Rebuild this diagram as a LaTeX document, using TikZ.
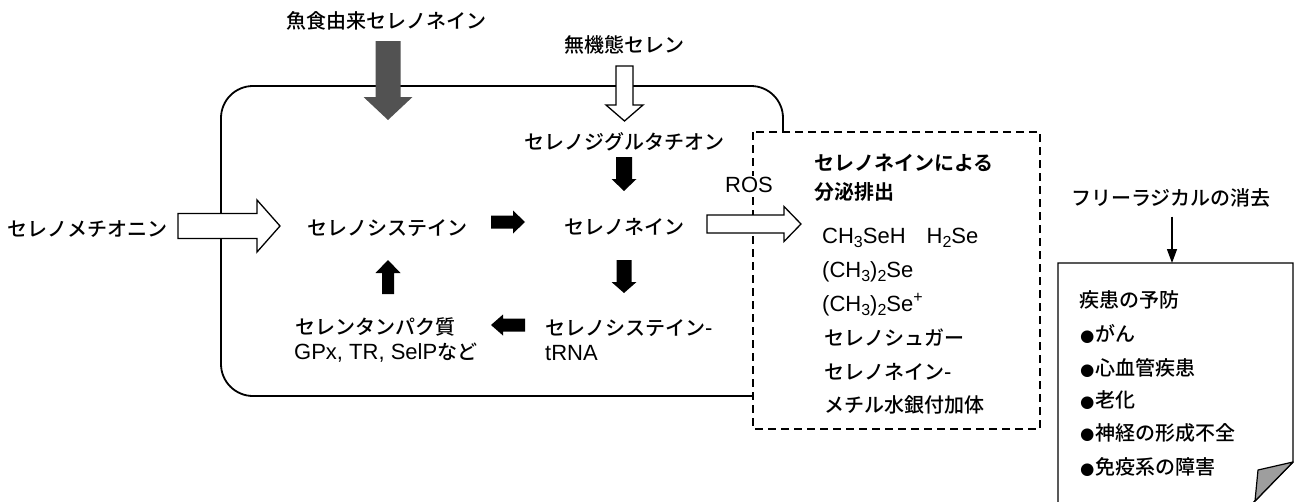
\documentclass[tikz,border=0pt]{standalone}
\usepackage{fontspec}
\setmainfont{Liberation Sans}
\newfontfamily\jpf{Noto Sans CJK JP Medium}[BoldFont={Noto Sans CJK JP Bold}]
\newfontfamily\bulletfont{DejaVu Sans}
\usetikzlibrary{calc,arrows.meta}
\definecolor{fishgray}{gray}{0.32}
\definecolor{foldgray}{gray}{0.62}
\newcommand\lat[1]{{\rmfamily\fontsize{22}{25}\selectfont #1}}
\newcommand\bul{{\bulletfont\fontsize{16.5}{25}\selectfont\raisebox{0.6pt}{●}}\hspace{1pt}}
\newcommand\chsub[1]{\raisebox{-0.3ex}{\fontsize{16}{16}\selectfont #1}}
\newcommand\chsup[1]{\raisebox{0.8ex}{\fontsize{16}{16}\selectfont #1}}
% block arrow: style, from, to, shaft half width, head half width, head length
\newcommand\barrow[6]{%
  \path[#1] let \p1=(#2), \p2=(#3), \n1={veclen(\x2-\x1,\y2-\y1)},
    \p3=({(\x2-\x1)/\n1*1pt},{(\y2-\y1)/\n1*1pt}),
    \p4=({\x2-#6*(\x3)},{\y2-#6*(\y3)}) in
    ({\x1-#4*(\y3)},{\y1+#4*(\x3)}) -- ({\x4-#4*(\y3)},{\y4+#4*(\x3)})
    -- ({\x4-#5*(\y3)},{\y4+#5*(\x3)}) -- (\p2)
    -- ({\x4+#5*(\y3)},{\y4-#5*(\x3)}) -- ({\x4+#4*(\y3)},{\y4-#4*(\x3)})
    -- ({\x1+#4*(\y3)},{\y1-#4*(\x3)}) -- cycle;}
\begin{document}
\begin{tikzpicture}[x=1pt,y=-1pt,
  jp/.style={font=\jpf\fontsize{20}{25}\selectfont, inner sep=0pt},
  bjp/.style={font=\jpf\bfseries\fontsize{20}{25}\selectfont, inner sep=0pt},
  la/.style={font=\fontsize{22}{25}\selectfont, inner sep=0pt},
  cell/.style={line width=1.8pt, rounded corners=32pt},
  dbox/.style={line width=1.4pt, dash pattern=on 8pt off 5pt, fill=white},
  hollow/.style={fill=white, draw=black, line width=1.3pt, line join=miter},
  blackarrow/.style={fill=black},
  fisharrow/.style={fill=fishgray},
  thinarrow/.style={line width=1.4pt, -{Triangle[length=14pt,width=10pt]}},
  notepage/.style={line width=1.4pt},
  foldcorner/.style={fill=foldgray, draw=black, line width=1.2pt, line join=round}
]
\useasboundingbox (0,0) rectangle (1296,501);
% cell and excretion box
\draw[cell] (221,86) rectangle (783,396);
\draw[dbox] (753,132) rectangle (1040,429);
% arrow end points
\coordinate (g1) at (388,41);   \coordinate (g2) at (388,120);
\coordinate (w1) at (624.5,66); \coordinate (w2) at (624.5,121);
\coordinate (b1) at (624,157);  \coordinate (b2) at (624,191);
\coordinate (r1) at (491,222);  \coordinate (r2) at (525,222);
\coordinate (d1) at (624,260);  \coordinate (d2) at (624,293);
\coordinate (l1) at (525,325);  \coordinate (l2) at (491,325);
\coordinate (u1) at (388,294);  \coordinate (u2) at (388,260);
\coordinate (h1) at (178,226);  \coordinate (h2) at (280,226);
\coordinate (o1) at (707,224);  \coordinate (o2) at (801,224);
\coordinate (notetop) at (1172,263);
% block arrows
\barrow{fisharrow}{g1}{g2}{12.5}{24.5}{23}
\barrow{hollow}{w1}{w2}{8.5}{18.5}{16}
\barrow{blackarrow}{b1}{b2}{8}{12.5}{12}
\barrow{blackarrow}{r1}{r2}{6.5}{11.5}{12}
\barrow{blackarrow}{d1}{d2}{7.5}{12.5}{11}
\barrow{blackarrow}{l1}{l2}{6.5}{10.5}{12}
\barrow{blackarrow}{u1}{u2}{6}{12.5}{13}
\barrow{hollow}{h1}{h2}{12.5}{26}{23}
\barrow{hollow}{o1}{o2}{9}{17.5}{17}
% note page
\draw[notepage] (1058,505) -- (1058,263) -- (1293,263) -- (1293,462) -- (1251,505);
\draw[foldcorner] (1293,462) -- (1258,470) -- (1255,501) -- cycle;
% texts
\node[jp] (fish) at (386,21) {魚食由来セレノネイン};
\node[jp] (inorg) at (624,45) {無機態セレン};
\node[jp] (sdg) at (624,142) {セレノジグルタチオン};
\node[jp] (sn) at (624,227) {セレノネイン};
\node[jp] (sc) at (387,228) {セレノシステイン};
\node[jp, anchor=west] (sm) at (7,229) {セレノメチオニン};
\node[jp, anchor=west] (tp1) at (295,327) {セレンタンパク質};
\node[jp, anchor=west] (tp2) at (294,353) {\lat{GPx, TR, SelP}など};
\node[jp, anchor=west] (trna1) at (545,328) {セレノシステイン\lat{-}};
\node[la, anchor=west] (trna2) at (545,353) {tRNA};
\node[la, fill=white, inner sep=1pt] (ros) at (749,185) {ROS};
\node[bjp, anchor=west] (ex1) at (814,163) {セレノネインによる};
\node[bjp, anchor=west] (ex2) at (814,192) {分泌排出};
\node[la, anchor=west] (c1) at (822,238) {CH\chsub{3}SeH\hspace{21pt}H\chsub{2}Se};
\node[la, anchor=west] (c2) at (822,272) {(CH\chsub{3})\chsub{2}Se};
\node[la, anchor=west] (c3) at (822,305) {(CH\chsub{3})\chsub{2}Se\chsup{+}};
\node[jp, anchor=west] (c4) at (824,338) {セレノシュガー};
\node[jp, anchor=west] (c5) at (824,372) {セレノネイン\lat{-}};
\node[jp, anchor=west] (c6) at (824,405) {メチル水銀付加体};
\node[jp] (fr) at (1171,198) {フリーラジカルの消去};
\node[jp, anchor=west] (p0) at (1079,300) {疾患の予防};
\node[jp, anchor=west] (p1) at (1080,334) {\bul がん};
\node[jp, anchor=west] (p2) at (1080,368) {\bul 心血管疾患};
\node[jp, anchor=west] (p3) at (1080,400) {\bul 老化};
\node[jp, anchor=west] (p4) at (1080,433) {\bul 神経の形成不全};
\node[jp, anchor=west] (p5) at (1080,467) {\bul 免疫系の障害};
\draw[thinarrow, shorten <=9pt] (fr.south -| notetop) -- (notetop);
\end{tikzpicture}
\end{document}
